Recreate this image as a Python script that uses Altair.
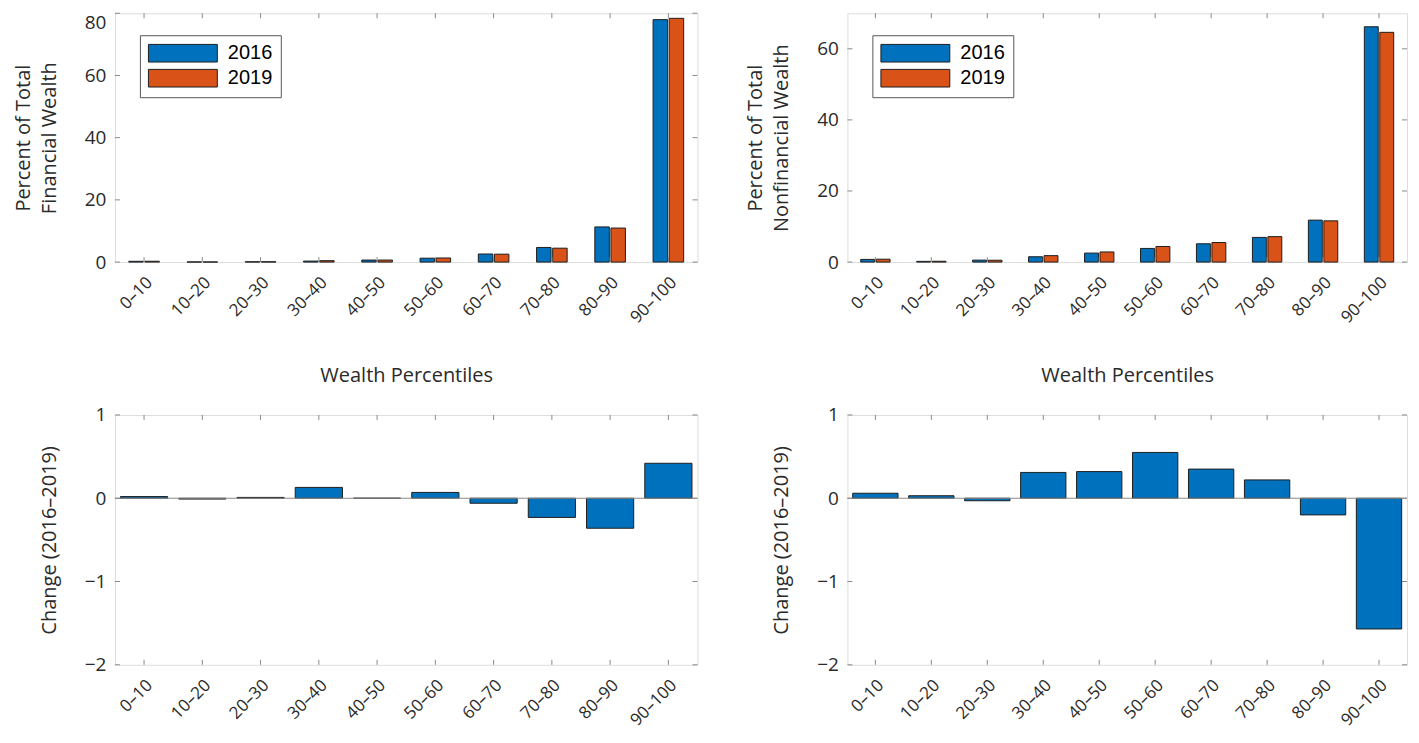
import altair as alt
import pandas as pd

cats = ["0–10", "10–20", "20–30", "30–40", "40–50",
        "50–60", "60–70", "70–80", "80–90", "90–100"]
years = ["2016", "2019"]

fin_2016 = [0.25, 0.05, 0.10, 0.32, 0.65, 1.25, 2.60, 4.70, 11.30, 77.95]
fin_2019 = [0.27, 0.04, 0.11, 0.45, 0.65, 1.32, 2.54, 4.47, 10.94, 78.37]
fin_change = [0.02, -0.01, 0.01, 0.13, 0.00, 0.07, -0.06, -0.23, -0.36, 0.42]

nonfin_2016 = [0.75, 0.20, 0.55, 1.50, 2.53, 3.84, 5.15, 6.94, 11.80, 66.20]
nonfin_2019 = [0.81, 0.23, 0.52, 1.81, 2.85, 4.39, 5.50, 7.16, 11.60, 64.63]
nonfin_change = [0.06, 0.03, -0.03, 0.31, 0.32, 0.55, 0.35, 0.22, -0.20, -1.57]

fin_ticks = [0, 20, 40, 60, 80]
nonfin_ticks = [0, 20, 40, 60]
change_ticks = [-2, -1, 0, 1]

FONT = "Open Sans"
TXT = "#2a2a2a"
FRAME = "#8a8a8a"
BLUE = "#0072BD"
ORANGE = "#D95319"
EDGE = "#1e1e1e"

W_L, W_R = 583, 560
H_T, H_B = 249, 250
TL = 5


def x_axis(title):
    kw = dict(labelAngle=315, labelFont=FONT, labelFontSize=17, labelColor=TXT,
              labelPadding=12, ticks=False, domain=False, grid=False)
    if title:
        return alt.Axis(title=title, titleFont=FONT, titleFontSize=20,
                        titleFontWeight="normal", titleColor=TXT, titlePadding=40, **kw)
    return alt.Axis(title=None, **kw)


def y_axis(title, ticks, top_value=None):
    kw = dict(title=title, values=ticks, format="d", labelFont=FONT, labelFontSize=19,
              labelColor=TXT, labelPadding=9, ticks=False, domain=False, grid=False,
              titleFont=FONT, titleFontSize=20, titleFontWeight="normal",
              titleColor=TXT, titlePadding=25, titleLineHeight=26)
    if top_value is not None:
        kw["labelBaseline"] = {"condition": {"test": f"datum.value == {top_value}",
                                             "value": "top"},
                               "value": "middle"}
    return alt.Axis(**kw)


def tick_layers(ticks, w, h):
    xt = pd.DataFrame({"cat": cats})
    yt = pd.DataFrame({"value": ticks})
    xenc = alt.X("cat:N", sort=cats)
    top = alt.Chart(xt).mark_rule(color=FRAME, strokeWidth=1).encode(
        x=xenc, y=alt.value(0), y2=alt.value(TL))
    bot = alt.Chart(xt).mark_rule(color=FRAME, strokeWidth=1).encode(
        x=xenc, y=alt.value(h - TL), y2=alt.value(h))
    left = alt.Chart(yt).mark_rule(color=FRAME, strokeWidth=1).encode(
        y=alt.Y("value:Q"), x=alt.value(0), x2=alt.value(TL))
    right = alt.Chart(yt).mark_rule(color=FRAME, strokeWidth=1).encode(
        y=alt.Y("value:Q"), x=alt.value(w - TL), x2=alt.value(w))
    return [top, bot, left, right]


def top_panel(v16, v19, ticks, ymax, title, w, top_value):
    df = pd.DataFrame({"cat": cats * 2,
                       "year": ["2016"] * len(cats) + ["2019"] * len(cats),
                       "value": v16 + v19})
    bars = alt.Chart(df).mark_bar(stroke=EDGE, strokeWidth=1).encode(
        x=alt.X("cat:N", sort=cats,
                scale=alt.Scale(paddingInner=0.475, paddingOuter=0.2375),
                axis=x_axis("Wealth Percentiles")),
        xOffset=alt.XOffset("year:N", sort=years, scale=alt.Scale(paddingInner=0.1)),
        y=alt.Y("value:Q", scale=alt.Scale(domain=[0, ymax], nice=False),
                axis=y_axis(title, ticks, top_value)),
        color=alt.Color("year:N", sort=years,
                        scale=alt.Scale(domain=years, range=[BLUE, ORANGE]),
                        legend=alt.Legend(
                            title=None, orient="none", legendX=25, legendY=22,
                            direction="vertical",
                            symbolType="M-3.83,-0.98L3.83,-0.98L3.83,0.98L-3.83,0.98Z",
                            symbolSize=324, symbolOffset=25,
                            symbolStrokeColor=EDGE, symbolStrokeWidth=1,
                            labelFont="Liberation Sans", labelFontSize=20,
                            labelColor="black", labelOffset=35,
                            padding=8, rowPadding=3,
                            strokeColor="#555555", fillColor="white")),
    )
    return alt.layer(bars, *tick_layers(ticks, w, H_T)).properties(width=w, height=H_T)


def bottom_panel(change, w):
    df = pd.DataFrame({"cat": cats, "value": change})
    base = alt.Chart(pd.DataFrame({"value": [0]})).mark_rule(
        color=FRAME, strokeWidth=1.2).encode(y=alt.Y("value:Q"))
    bars = alt.Chart(df).mark_bar(color=BLUE, stroke=EDGE, strokeWidth=1).encode(
        x=alt.X("cat:N", sort=cats,
                scale=alt.Scale(paddingInner=0.19, paddingOuter=0.095),
                axis=x_axis(None)),
        y=alt.Y("value:Q", scale=alt.Scale(domain=[-2, 1], nice=False, zero=False),
                axis=y_axis("Change (2016–2019)", change_ticks)),
    )
    return alt.layer(bars, base, *tick_layers(change_ticks, w, H_B)).properties(
        width=w, height=H_B)


tl = top_panel(fin_2016, fin_2019, fin_ticks, 80,
               ["Percent of Total", "Financial Wealth"], W_L, 80)
tr = top_panel(nonfin_2016, nonfin_2019, nonfin_ticks, 70,
               ["Percent of Total", "Nonfinancial Wealth"], W_R, None)
bl = bottom_panel(fin_change, W_L)
br = bottom_panel(nonfin_change, W_R)

chart = alt.concat(tl, tr, bl, br, columns=2, spacing=alt.RowColnumber(row=18, column=45)).resolve_scale(
    color="independent", x="independent", y="independent", xOffset="independent"
).properties(
    padding={"left": 4, "top": 4, "right": 2, "bottom": 0}
).configure_view(
    stroke=FRAME, strokeWidth=1.3
).configure(background="white")

chart.save("out.html", embed_options={"renderer": "svg", "actions": False})
